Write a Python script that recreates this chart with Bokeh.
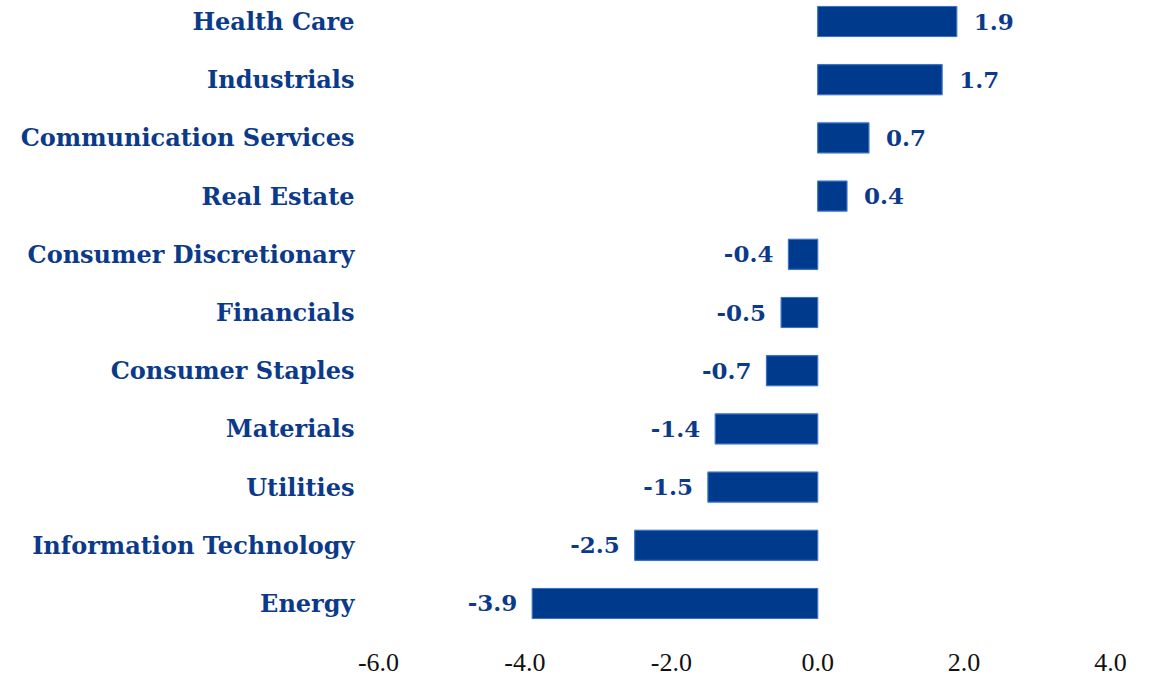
from bokeh.plotting import figure
from bokeh.models import Range1d, FixedTicker, ColumnDataSource
from bokeh.core.properties import value
from bokeh.embed import file_html
from bokeh.resources import INLINE

sectors = ["Energy", "Information Technology", "Utilities", "Materials", "Consumer Staples",
           "Financials", "Consumer Discretionary", "Real Estate", "Communication Services",
           "Industrials", "Health Care"]
values = [-3.9, -2.5, -1.5, -1.4, -0.7, -0.5, -0.4, 0.4, 0.7, 1.7, 1.9]
x_ticks = [-6.0, -4.0, -2.0, 0.0, 2.0, 4.0]

ypos = list(range(len(sectors)))
labels = [f"{v:.1f}" for v in values]
pos_idx = [i for i, v in enumerate(values) if v >= 0]
neg_idx = [i for i, v in enumerate(values) if v < 0]

src = ColumnDataSource(dict(y=ypos, v=values, lab=labels))
src_pos = ColumnDataSource(dict(y=[ypos[i] for i in pos_idx], v=[values[i] for i in pos_idx],
                                lab=[labels[i] for i in pos_idx]))
src_neg = ColumnDataSource(dict(y=[ypos[i] for i in neg_idx], v=[values[i] for i in neg_idx],
                                lab=[labels[i] for i in neg_idx]))

BLUE = "#003a8c"
TXT = "#0b3a8a"

p = figure(width=1158, height=678, output_backend="svg", toolbar_location=None,
           x_range=Range1d(-6, 4), y_range=Range1d(-0.464, 10.361),
           min_border_left=378, min_border_right=48, min_border_top=0, min_border_bottom=48)
p.outline_line_color = None
p.grid.visible = False
p.background_fill_color = "white"
p.border_fill_color = "white"

# soft shadow
p.hbar(y="y", left=0, right="v", height=0.56, source=src, fill_color="#000000",
       fill_alpha=0.06, line_color=None)
p.hbar(y="y", left=0, right="v", height=0.515, source=src, fill_color=BLUE,
       line_color="#3a72c8", line_width=1.2)

p.text(x="v", y="y", text="lab", source=src_pos, x_offset=17, text_align="left",
       text_baseline="middle", text_font=value("DejaVu Serif"), text_font_style="bold",
       text_font_size="23px", text_color=TXT)
p.text(x="v", y="y", text="lab", source=src_neg, x_offset=-15, text_align="right",
       text_baseline="middle", text_font=value("DejaVu Serif"), text_font_style="bold",
       text_font_size="23px", text_color=TXT)

p.xaxis.ticker = FixedTicker(ticks=x_ticks)
p.xaxis.major_label_overrides = {t: f"{t:.1f}" for t in x_ticks}
p.xaxis.axis_line_color = None
p.xaxis.major_tick_line_color = None
p.xaxis.minor_tick_line_color = None
p.xaxis.major_label_text_font = "Liberation Serif"
p.xaxis.major_label_text_font_size = "26px"
p.xaxis.major_label_text_color = "#111111"
p.xaxis.major_label_standoff = 17

p.yaxis.ticker = FixedTicker(ticks=ypos)
p.yaxis.major_label_overrides = {i: s for i, s in enumerate(sectors)}
p.yaxis.axis_line_color = None
p.yaxis.major_tick_line_color = None
p.yaxis.minor_tick_line_color = None
p.yaxis.major_label_text_font = "DejaVu Serif"
p.yaxis.major_label_text_font_style = "bold"
p.yaxis.major_label_text_font_size = "24px"
p.yaxis.major_label_text_color = TXT
p.yaxis.major_label_standoff = 18

open("out.html", "w").write(file_html(p, INLINE))
